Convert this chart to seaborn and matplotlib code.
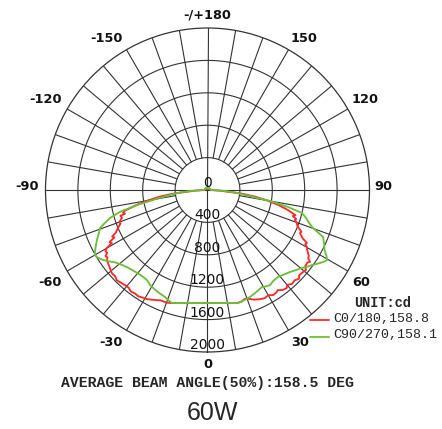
import numpy as np
import pandas as pd
import matplotlib
matplotlib.use("Agg")
import matplotlib.pyplot as plt
import seaborn as sns
from matplotlib.lines import Line2D

sns.set_style("white")
plt.rcParams['font.family'] = ['DejaVu Sans']

# ---- data (angle in degrees, intensity in cd) ----
c0_angles = [-180, -150, -120, -100, -92, -90, -87, -84, -82, -80, -78, -76, -75, -74, -73.5, -72, -70, -69,
             -67, -65, -64, -63, -62, -61, -60, -59, -58, -57, -56, -55, -53, -51, -49, -47, -45, -43,
             -41, -39, -37, -35, -33, -31, -29, -27, -25, -23, -20, -18, -15, -10, -5, 0,
             5, 10, 15, 17, 19, 21, 23, 25, 27, 28, 30, 32, 34, 35, 37, 39, 40, 42, 44, 46, 47, 49,
             51, 52, 54, 55, 56, 57, 59, 60, 61, 62, 63, 65, 66, 68, 70, 71, 72, 73, 74, 76, 78, 80,
             82, 84, 87, 90, 100, 120, 150, 180]
c0_values = [15, 20, 25, 30, 40, 50, 150, 420, 600, 750, 900, 1050, 1080, 1060, 1120, 1110, 1160, 1150,
             1200, 1250, 1310, 1290, 1370, 1350, 1440, 1470, 1460, 1500, 1490, 1515, 1530, 1545, 1565, 1560, 1580, 1565,
             1555, 1550, 1570, 1560, 1565, 1550, 1540, 1520, 1500, 1480, 1480, 1467, 1444, 1416, 1400, 1395,
             1400, 1416, 1444, 1440, 1420, 1440, 1470, 1490, 1505, 1511, 1500, 1530, 1524, 1510, 1545, 1556, 1530, 1560, 1550, 1575, 1545, 1553,
             1565, 1530, 1524, 1545, 1500, 1490, 1435, 1420, 1380, 1390, 1320, 1259, 1270, 1200, 1170, 1142, 1150, 1100, 1130, 1024, 900, 750,
             600, 420, 150, 50, 30, 25, 20, 15]

c90_angles = [-180, -160, -140, -120, -100, -92, -90, -87, -85, -82.4, -80, -78, -76, -74, -72, -70.5, -68,
              -65.7, -63, -61, -60, -59, -58, -56.2, -54, -52, -50, -48, -46, -43, -40, -37, -34, -31, -28,
              -25, -21.7, -19, -17.4, -15, -10, -5, 0, 5, 10, 14.6, 17, 19.5, 21.7, 25, 29.3, 31, 33.3, 36,
              39, 42, 45.2, 48, 50.5, 52, 54.3, 56, 58, 59.6, 61, 63, 65, 67.9, 69, 70.5, 72, 74, 76.3, 78.1,
              80, 82.4, 85, 87, 90, 100, 120, 140, 160, 180]
c90_values = [20, 30, 35, 35, 35, 40, 60, 200, 330, 467, 650, 880, 1114, 1250, 1340, 1407, 1450,
              1497, 1550, 1590, 1604, 1600, 1585, 1553, 1500, 1450, 1420, 1395, 1375, 1355, 1340, 1335, 1339, 1371, 1390,
              1405, 1421, 1450, 1462, 1444, 1416, 1400, 1395, 1400, 1416, 1442, 1440, 1430, 1421, 1400, 1374, 1390, 1404, 1385,
              1383, 1405, 1436, 1475, 1513, 1545, 1588, 1630, 1680, 1710, 1680, 1620, 1590, 1540, 1460, 1369, 1320, 1270, 1201, 1016,
              800, 467, 330, 200, 60, 35, 35, 35, 30, 20]

ring_values = [0, 400, 800, 1200, 1600, 2000]
angle_ticks = [180, 150, 120, 90, 60, 30, 0, -30, -60, -90, -120, -150]
angle_labels = ["-/+180", "150", "120", "90", "60", "30", "0", "-30", "-60", "-90", "-120", "-150"]
legend_labels = ["C0/180,158.8", "C90/270,158.1"]

RED = "#ff2a2a"
GREEN = "#6cbf3c"
GRID = "#333333"

df = pd.concat([
    pd.DataFrame({"theta": np.deg2rad(c0_angles), "cd": c0_values, "plane": legend_labels[0]}),
    pd.DataFrame({"theta": np.deg2rad(c90_angles), "cd": c90_values, "plane": legend_labels[1]}),
])

W, H = 442, 429
fig = plt.figure(figsize=(W / 100, H / 100), dpi=100)
cx, cy, R = 207.5, 190, 162
ax = fig.add_axes([(cx - R) / W, (H - cy - R) / H, 2 * R / W, 2 * R / H], projection="polar")
ax.set_theta_zero_location("S")
ax.set_theta_direction(1)
ax.set_ylim(0, 2000)
ax.grid(False)
ax.set_xticks([])
ax.set_yticks([])
ax.spines["polar"].set_color(GRID)
ax.spines["polar"].set_linewidth(0.9)

# grid: rings and spokes
full = np.linspace(0, 2 * np.pi, 361)
for rv in ring_values[1:-1]:
    ax.plot(full, np.full_like(full, rv), color=GRID, lw=0.8, zorder=1)
for a in range(0, 360, 10):
    t = np.deg2rad(a)
    r0 = 0 if a % 90 == 0 else 400
    ax.plot([t, t], [r0, 2000], color=GRID, lw=0.8, zorder=1)

sns.lineplot(data=df, x="theta", y="cd", hue="plane", palette=[RED, GREEN], sort=False,
             estimator=None, ax=ax, lw=1.35, legend=False, zorder=3)
ax.set_xlabel("")
ax.set_ylabel("")
ax.set_ylim(0, 2000)

# radial labels
for rv in ring_values:
    ax.text(0, rv, str(rv), ha="center", va="bottom", fontsize=10, color="#111111", zorder=4)

# angle labels (figure pixel positions)
label_pos = {"-/+180": (207.5, 15), "150": (304, 38), "120": (365, 99), "90": (383, 186),
             "60": (361, 282), "30": (300, 342), "0": (207.5, 365), "-30": (111, 342),
             "-60": (50, 282), "-90": (27, 186), "-120": (45, 99), "-150": (106, 38)}
for lab in angle_labels:
    x, y = label_pos[lab]
    fig.text(x / W, 1 - y / H, lab, ha="center", va="center", fontsize=9.3, fontweight="bold",
             color="#111111")

mono = "Liberation Mono"
fig.text(383 / W, 1 - 303 / H, "UNIT:cd", ha="center", va="center", family=mono,
         fontweight="bold", fontsize=9.8)
for i, (lab, col) in enumerate(zip(legend_labels, [RED, GREEN])):
    yy = 320 + 16.5 * i
    fig.add_artist(Line2D([310 / W, 329 / W], [1 - yy / H, 1 - yy / H], color=col, lw=1.3,
                          transform=fig.transFigure))
    fig.text(333 / W, 1 - (yy - 1) / H, lab, ha="left", va="center", family=mono, fontsize=9.6)

fig.text(207.5 / W, 1 - 383 / H, "AVERAGE BEAM ANGLE(50%):158.5 DEG", ha="center", va="center",
         family=mono, fontweight="bold", fontsize=10.6)
fig.text(213 / W, 1 - 413 / H, "60W", ha="center", va="center",
         family=["Liberation Sans Narrow", "Liberation Sans"], fontsize=18)

fig.savefig("out.png", dpi=100)
